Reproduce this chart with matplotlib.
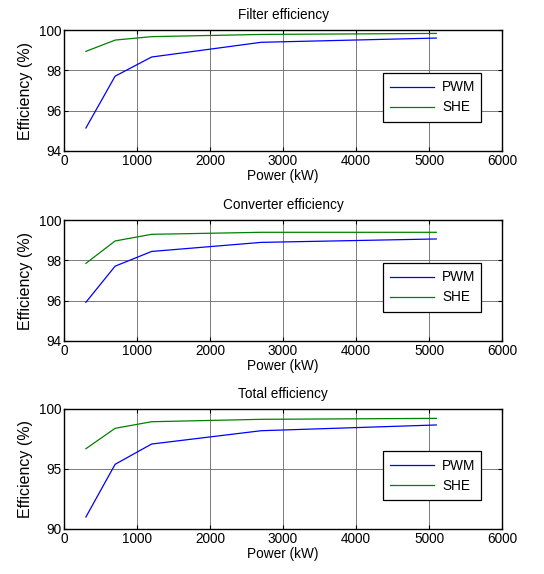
import matplotlib
matplotlib.use("Agg")
import matplotlib.pyplot as plt

plt.rcParams['font.family'] = ['Liberation Sans', 'DejaVu Sans']

power_kw = [300, 700, 1200, 2700, 5100]

filter_pwm = [95.14, 97.71, 98.66, 99.39, 99.60]
filter_she = [98.94, 99.50, 99.67, 99.78, 99.83]

conv_pwm = [95.92, 97.71, 98.44, 98.89, 99.06]
conv_she = [97.85, 98.96, 99.29, 99.39, 99.39]

total_pwm = [91.0, 95.39, 97.08, 98.19, 98.67]
total_she = [96.69, 98.39, 98.94, 99.14, 99.22]

titles = ["Filter efficiency", "Converter efficiency", "Total efficiency"]
ylims = [(94, 100), (94, 100), (90, 100)]
yticks = [[94, 96, 98, 100], [94, 96, 98, 100], [90, 95, 100]]
xticks = [0, 1000, 2000, 3000, 4000, 5000, 6000]
series = [(filter_pwm, filter_she), (conv_pwm, conv_she), (total_pwm, total_she)]

W, H = 544, 574
fig = plt.figure(figsize=(W / 100, H / 100), dpi=100)

axes_px = [(64, 30, 502, 151), (64, 220, 502, 341), (64, 409, 502, 529)]
fs = 9.8

for i, (l, t, r, b) in enumerate(axes_px):
    ax = fig.add_axes([l / W, 1 - b / H, (r - l) / W, (b - t) / H])
    pwm, she = series[i]
    ax.plot(power_kw, pwm, color='#0000ff', lw=0.9, label='PWM')
    ax.plot(power_kw, she, color='#008000', lw=0.9, label='SHE')
    ax.set_xlim(0, 6000)
    ax.set_ylim(*ylims[i])
    ax.set_xticks(xticks)
    ax.set_yticks(yticks[i])
    ax.grid(True, color='#666666', lw=0.6)
    ax.tick_params(direction='in', top=True, right=True, labelsize=fs, length=3, width=0.8, pad=2)
    for s in ax.spines.values():
        s.set_linewidth(1.0)
    ax.set_title(titles[i], fontsize=fs, pad=8)
    ax.set_xlabel("Power (kW)", fontsize=fs, labelpad=1)
    ax.set_ylabel("Efficiency (%)", fontsize=11.5, labelpad=4)
    leg = ax.legend(loc='lower left', bbox_to_anchor=(0.728, 0.24, 0.225, 0.395), mode='expand',
                    fancybox=False, edgecolor='black', fontsize=fs, framealpha=1,
                    handlelength=3.2, borderaxespad=0, labelspacing=0.45, borderpad=0.55,
                    handletextpad=0.6)
    leg.get_frame().set_linewidth(0.9)

fig.savefig("out.png", dpi=100)
